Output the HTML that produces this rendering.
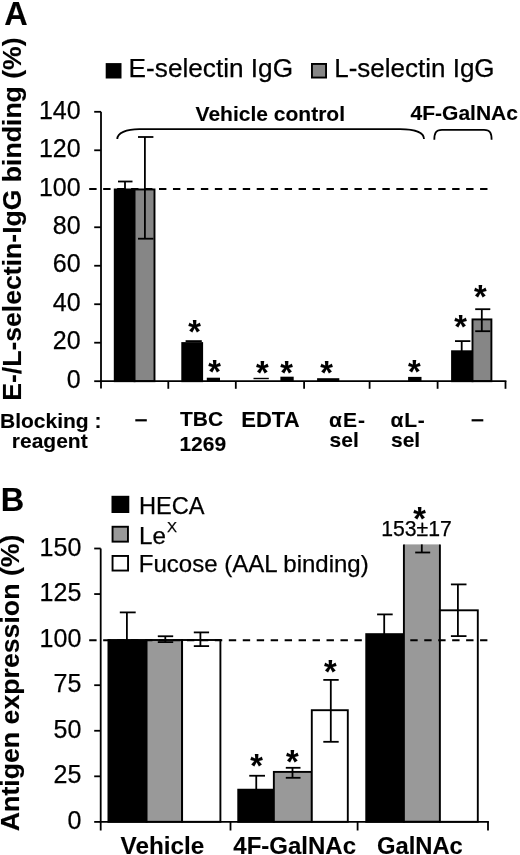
<!DOCTYPE html>
<html><head><meta charset="utf-8"><style>
html,body{margin:0;padding:0;background:#fff;}
body{width:520px;height:855px;overflow:hidden;}
svg text{stroke:#000;stroke-width:0.25px;}
svg text[font-weight=bold]{stroke-width:0.12px;}
svg{display:block;font-family:"Liberation Sans",sans-serif;will-change:transform;filter:blur(0.35px);}
</style></head><body>
<svg width="520" height="855" viewBox="0 0 520 855">
<rect width="520" height="855" fill="#fff"/>
<text x="4.2" y="25" font-size="32.5" font-weight="bold" text-anchor="start" >A</text>
<rect x="106.65" y="64.05" width="13.9" height="13.5" fill="#000" stroke="#000" stroke-width="1.9"/>
<text x="128.6" y="77" font-size="26.2" font-weight="normal" text-anchor="start" >E-selectin IgG</text>
<rect x="311.95" y="63.95" width="14.1" height="13.6" fill="#868686" stroke="#000" stroke-width="1.9"/>
<text x="334.2" y="77" font-size="26" font-weight="normal" text-anchor="start" >L-selectin IgG</text>
<text transform="translate(21.1,219.1) rotate(-90)" font-size="26.6" font-weight="bold" text-anchor="middle">E-/L-selectin-IgG binding (%)</text>
<line x1="94.2" y1="381.2" x2="101" y2="381.2" stroke="#000" stroke-width="1.8" />
<text x="80.6" y="387.95" font-size="25" font-weight="normal" text-anchor="end" >0</text>
<line x1="94.2" y1="342.71" x2="101" y2="342.71" stroke="#000" stroke-width="1.8" />
<text x="80.6" y="349.46" font-size="25" font-weight="normal" text-anchor="end" >20</text>
<line x1="94.2" y1="304.23" x2="101" y2="304.23" stroke="#000" stroke-width="1.8" />
<text x="80.6" y="310.98" font-size="25" font-weight="normal" text-anchor="end" >40</text>
<line x1="94.2" y1="265.74" x2="101" y2="265.74" stroke="#000" stroke-width="1.8" />
<text x="80.6" y="272.49" font-size="25" font-weight="normal" text-anchor="end" >60</text>
<line x1="94.2" y1="227.26" x2="101" y2="227.26" stroke="#000" stroke-width="1.8" />
<text x="80.6" y="234.01" font-size="25" font-weight="normal" text-anchor="end" >80</text>
<text x="80.6" y="195.52" font-size="25" font-weight="normal" text-anchor="end" >100</text>
<line x1="94.2" y1="150.29" x2="101" y2="150.29" stroke="#000" stroke-width="1.8" />
<text x="80.6" y="157.04" font-size="25" font-weight="normal" text-anchor="end" >120</text>
<line x1="94.2" y1="111.8" x2="101" y2="111.8" stroke="#000" stroke-width="1.8" />
<text x="80.6" y="118.55" font-size="25" font-weight="normal" text-anchor="end" >140</text>
<rect x="114.75" y="189.45" width="19.8" height="191.75" fill="#000" stroke="#000" stroke-width="1.9"/>
<rect x="134.55" y="189.45" width="19.95" height="191.75" fill="#868686" stroke="#000" stroke-width="1.9"/>
<line x1="118" y1="181.5" x2="132.5" y2="181.5" stroke="#000" stroke-width="1.8" />
<line x1="125" y1="181.5" x2="125" y2="189.45" stroke="#000" stroke-width="1.8" />
<line x1="138" y1="137" x2="153.4" y2="137" stroke="#000" stroke-width="1.8" />
<line x1="138" y1="238.7" x2="153.4" y2="238.7" stroke="#000" stroke-width="1.8" />
<line x1="144.9" y1="137" x2="144.9" y2="238.7" stroke="#000" stroke-width="1.8" />
<rect x="182.25" y="343.05" width="19.9" height="38.15" fill="#000" stroke="#000" stroke-width="1.9"/>
<line x1="185.6" y1="341.1" x2="201.8" y2="341.1" stroke="#000" stroke-width="1.8" />
<rect x="206.8" y="377.7" width="13.2" height="3.5" fill="#000"/>
<line x1="253.5" y1="378.5" x2="268.8" y2="378.5" stroke="#000" stroke-width="1.4" />
<rect x="280.4" y="376.7" width="13.3" height="4.5" fill="#000"/>
<rect x="317.1" y="378.2" width="22.2" height="3.0" fill="#000"/>
<rect x="408.1" y="376.9" width="13.4" height="4.3" fill="#000"/>
<rect x="452.05" y="351.25" width="20.45" height="29.95" fill="#000" stroke="#000" stroke-width="1.9"/>
<rect x="472.5" y="319.4" width="18.9" height="61.8" fill="#868686" stroke="#000" stroke-width="1.9"/>
<line x1="455" y1="341.1" x2="470.4" y2="341.1" stroke="#000" stroke-width="1.8" />
<line x1="461.7" y1="341.1" x2="461.7" y2="351.25" stroke="#000" stroke-width="1.8" />
<line x1="475.2" y1="309.2" x2="490.3" y2="309.2" stroke="#000" stroke-width="1.8" />
<line x1="475.2" y1="331.2" x2="490.3" y2="331.2" stroke="#000" stroke-width="1.8" />
<line x1="481.8" y1="309.2" x2="481.8" y2="331.2" stroke="#000" stroke-width="1.8" />
<line x1="89.2" y1="189" x2="488" y2="189" stroke="#000" stroke-width="2" stroke-dasharray="7.4 6.56"/>
<line x1="101" y1="111.8" x2="101" y2="388.5" stroke="#000" stroke-width="1.8" />
<line x1="100.1" y1="381.2" x2="506.4" y2="381.2" stroke="#000" stroke-width="1.8" />
<line x1="168.3" y1="381.2" x2="168.3" y2="388.8" stroke="#000" stroke-width="1.8" />
<line x1="235.8" y1="381.2" x2="235.8" y2="388.8" stroke="#000" stroke-width="1.8" />
<line x1="304.1" y1="381.2" x2="304.1" y2="388.8" stroke="#000" stroke-width="1.8" />
<line x1="369.6" y1="381.2" x2="369.6" y2="388.8" stroke="#000" stroke-width="1.8" />
<line x1="437.6" y1="381.2" x2="437.6" y2="388.8" stroke="#000" stroke-width="1.8" />
<line x1="505.5" y1="381.2" x2="505.5" y2="388.8" stroke="#000" stroke-width="1.8" />
<text x="194.6" y="343.4" font-size="32.5" font-weight="bold" text-anchor="middle" >*</text>
<text x="214.6" y="383.45" font-size="32.5" font-weight="bold" text-anchor="middle" >*</text>
<text x="262.4" y="383.75" font-size="32.5" font-weight="bold" text-anchor="middle" >*</text>
<text x="286.5" y="383.75" font-size="32.5" font-weight="bold" text-anchor="middle" >*</text>
<text x="326.5" y="383.55" font-size="32.5" font-weight="bold" text-anchor="middle" >*</text>
<text x="414.3" y="383.35" font-size="32.5" font-weight="bold" text-anchor="middle" >*</text>
<text x="460.6" y="337.7" font-size="32.5" font-weight="bold" text-anchor="middle" >*</text>
<text x="480.25" y="307.5" font-size="32.5" font-weight="bold" text-anchor="middle" >*</text>
<path d="M117.3,139 C117.3,133 126,129.2 139.4,129.2 L400,129.2 C413,129.2 424,132 424,139" fill="none" stroke="#000" stroke-width="1.8"/>
<path d="M434.3,139.8 C434.3,133.5 435.5,129.8 442,129.8 L484,129.8 C490.5,129.8 491.6,133.5 491.6,139.8" fill="none" stroke="#000" stroke-width="1.8"/>
<text x="195.6" y="120.7" font-size="21" font-weight="bold" text-anchor="start" >Vehicle control</text>
<text x="410.6" y="120.4" font-size="21" font-weight="bold" text-anchor="start" >4F-GalNAc</text>
<text x="0" y="427.5" font-size="21" font-weight="bold" text-anchor="start" >Blocking :</text>
<text x="11.8" y="447.8" font-size="21" font-weight="bold" text-anchor="start" >reagent</text>
<line x1="135.3" y1="420.3" x2="146.8" y2="420.3" stroke="#000" stroke-width="2.2" />
<text x="179.9" y="426.4" font-size="21" font-weight="bold" text-anchor="start" >TBC</text>
<text x="179.4" y="451.2" font-size="21" font-weight="bold" text-anchor="start" >1269</text>
<text x="241.3" y="426.6" font-size="22" font-weight="bold" text-anchor="start" >EDTA</text>
<text x="329" y="427.1" font-size="21" font-weight="bold" text-anchor="start" letter-spacing="1">αE-</text>
<text x="329.6" y="446.8" font-size="21" font-weight="bold" text-anchor="start" >sel</text>
<text x="390.5" y="427.1" font-size="21" font-weight="bold" text-anchor="start" letter-spacing="0.8">αL-</text>
<text x="391" y="446.8" font-size="21" font-weight="bold" text-anchor="start" >sel</text>
<line x1="471.6" y1="420.3" x2="483.3" y2="420.3" stroke="#000" stroke-width="2.2" />
<text x="0.8" y="510.8" font-size="32.5" font-weight="bold" text-anchor="start" >B</text>
<rect x="112.45" y="496.75" width="15.9" height="15.3" fill="#000" stroke="#000" stroke-width="1.9"/>
<rect x="112.55" y="526.75" width="15.4" height="14.9" fill="#999999" stroke="#000" stroke-width="1.9"/>
<rect x="112.55" y="555.95" width="15.5" height="14.6" fill="#fff" stroke="#000" stroke-width="1.9"/>
<text x="138.9" y="513.9" font-size="23.6" font-weight="normal" text-anchor="start" >HECA</text>
<text x="139.1" y="543.5" font-size="24.2" font-weight="normal" text-anchor="start" >Le</text>
<text x="166.9" y="531.7" font-size="15" font-weight="normal" text-anchor="start" >X</text>
<text x="138.8" y="571.9" font-size="24" font-weight="normal" text-anchor="start" >Fucose (AAL binding)</text>
<text transform="translate(19.1,682.9) rotate(-90)" font-size="26.7" font-weight="bold" text-anchor="middle">Antigen expression (%)</text>
<line x1="94.2" y1="821.9" x2="100.7" y2="821.9" stroke="#000" stroke-width="1.8" />
<text x="81.3" y="828.95" font-size="25" font-weight="normal" text-anchor="end" >0</text>
<line x1="94.2" y1="776.33" x2="100.7" y2="776.33" stroke="#000" stroke-width="1.8" />
<text x="81.3" y="783.38" font-size="25" font-weight="normal" text-anchor="end" >25</text>
<line x1="94.2" y1="730.76" x2="100.7" y2="730.76" stroke="#000" stroke-width="1.8" />
<text x="81.3" y="737.81" font-size="25" font-weight="normal" text-anchor="end" >50</text>
<line x1="94.2" y1="685.2" x2="100.7" y2="685.2" stroke="#000" stroke-width="1.8" />
<text x="81.3" y="692.25" font-size="25" font-weight="normal" text-anchor="end" >75</text>
<text x="81.3" y="646.68" font-size="25" font-weight="normal" text-anchor="end" >100</text>
<line x1="94.2" y1="594.06" x2="100.7" y2="594.06" stroke="#000" stroke-width="1.8" />
<text x="81.3" y="601.11" font-size="25" font-weight="normal" text-anchor="end" >125</text>
<line x1="94.2" y1="548.5" x2="100.7" y2="548.5" stroke="#000" stroke-width="1.8" />
<text x="81.3" y="555.54" font-size="25" font-weight="normal" text-anchor="end" >150</text>
<rect x="108.45" y="640" width="38.1" height="181.8" fill="#000" stroke="#000" stroke-width="1.9"/>
<rect x="146.55" y="640" width="35.55" height="181.8" fill="#999999" stroke="#000" stroke-width="1.9"/>
<rect x="182.1" y="640" width="38.3" height="181.8" fill="#fff" stroke="#000" stroke-width="1.9"/>
<line x1="119.8" y1="612.4" x2="135.7" y2="612.4" stroke="#000" stroke-width="1.8" />
<line x1="126.9" y1="612.4" x2="126.9" y2="640" stroke="#000" stroke-width="1.8" />
<line x1="157.8" y1="636.25" x2="173.2" y2="636.25" stroke="#000" stroke-width="1.8" />
<line x1="157.8" y1="642.1" x2="173.2" y2="642.1" stroke="#000" stroke-width="1.8" />
<line x1="165.3" y1="636.25" x2="165.3" y2="642.1" stroke="#000" stroke-width="1.8" />
<line x1="193.8" y1="632.4" x2="209.1" y2="632.4" stroke="#000" stroke-width="1.8" />
<line x1="193.8" y1="646.1" x2="209.1" y2="646.1" stroke="#000" stroke-width="1.8" />
<line x1="200.4" y1="632.4" x2="200.4" y2="646.1" stroke="#000" stroke-width="1.8" />
<rect x="238.25" y="789.7" width="35.6" height="32.1" fill="#000" stroke="#000" stroke-width="1.9"/>
<rect x="273.85" y="771.9" width="37.95" height="49.9" fill="#999999" stroke="#000" stroke-width="1.9"/>
<rect x="311.8" y="710.2" width="36.0" height="111.6" fill="#fff" stroke="#000" stroke-width="1.9"/>
<line x1="249.25" y1="775.75" x2="265" y2="775.75" stroke="#000" stroke-width="1.8" />
<line x1="256.25" y1="775.75" x2="256.25" y2="789.7" stroke="#000" stroke-width="1.8" />
<line x1="285.8" y1="767.8" x2="300.5" y2="767.8" stroke="#000" stroke-width="1.8" />
<line x1="285.8" y1="777.8" x2="300.5" y2="777.8" stroke="#000" stroke-width="1.8" />
<line x1="292.5" y1="767.8" x2="292.5" y2="777.8" stroke="#000" stroke-width="1.8" />
<line x1="323.3" y1="679.9" x2="338.7" y2="679.9" stroke="#000" stroke-width="1.8" />
<line x1="323.3" y1="741.8" x2="338.7" y2="741.8" stroke="#000" stroke-width="1.8" />
<line x1="330.8" y1="679.9" x2="330.8" y2="741.8" stroke="#000" stroke-width="1.8" />
<rect x="366.25" y="634.15" width="37.65" height="187.65" fill="#000" stroke="#000" stroke-width="1.9"/>
<rect x="403.9" y="544.4" width="36.0" height="277.4" fill="#999999"/>
<path d="M403.9,544.4V821.8H439.9V544.4" fill="none" stroke="#000" stroke-width="1.9"/>
<rect x="439.9" y="610.3" width="37.9" height="211.5" fill="#fff" stroke="#000" stroke-width="1.9"/>
<line x1="377.1" y1="614.4" x2="392.7" y2="614.4" stroke="#000" stroke-width="1.8" />
<line x1="384.2" y1="614.4" x2="384.2" y2="634.15" stroke="#000" stroke-width="1.8" />
<line x1="421.8" y1="544.4" x2="421.8" y2="552.5" stroke="#000" stroke-width="1.8" />
<line x1="415.2" y1="552.5" x2="430.2" y2="552.5" stroke="#000" stroke-width="1.8" />
<line x1="450.9" y1="584.4" x2="466.5" y2="584.4" stroke="#000" stroke-width="1.8" />
<line x1="450.9" y1="636.1" x2="466.5" y2="636.1" stroke="#000" stroke-width="1.8" />
<line x1="457.9" y1="584.4" x2="457.9" y2="636.1" stroke="#000" stroke-width="1.8" />
<text x="381.2" y="536" font-size="21.2" font-weight="normal" text-anchor="start" >153±17</text>
<line x1="89.2" y1="640.2" x2="487.4" y2="640.2" stroke="#000" stroke-width="2" stroke-dasharray="7.4 6.56"/>
<line x1="100.7" y1="548.5" x2="100.7" y2="830.5" stroke="#000" stroke-width="1.8" />
<line x1="99.8" y1="821.8" x2="488.9" y2="821.8" stroke="#000" stroke-width="1.8" />
<line x1="230.5" y1="821.8" x2="230.5" y2="830.5" stroke="#000" stroke-width="1.8" />
<line x1="357.6" y1="821.8" x2="357.6" y2="830.5" stroke="#000" stroke-width="1.8" />
<line x1="488" y1="821.8" x2="488" y2="830.5" stroke="#000" stroke-width="1.8" />
<text x="256.5" y="776.7" font-size="32.5" font-weight="bold" text-anchor="middle" >*</text>
<text x="292.45" y="772.7" font-size="32.5" font-weight="bold" text-anchor="middle" >*</text>
<text x="330.35" y="682.7" font-size="32.5" font-weight="bold" text-anchor="middle" >*</text>
<text x="419.7" y="529.55" font-size="32.5" font-weight="bold" text-anchor="middle" >*</text>
<text x="120.6" y="854" font-size="24.3" font-weight="bold" text-anchor="start" >Vehicle</text>
<text x="233.3" y="854" font-size="24" font-weight="bold" text-anchor="start" >4F-GalNAc</text>
<text x="376.9" y="854" font-size="23.8" font-weight="bold" text-anchor="start" >GalNAc</text>
</svg>
</body></html>
